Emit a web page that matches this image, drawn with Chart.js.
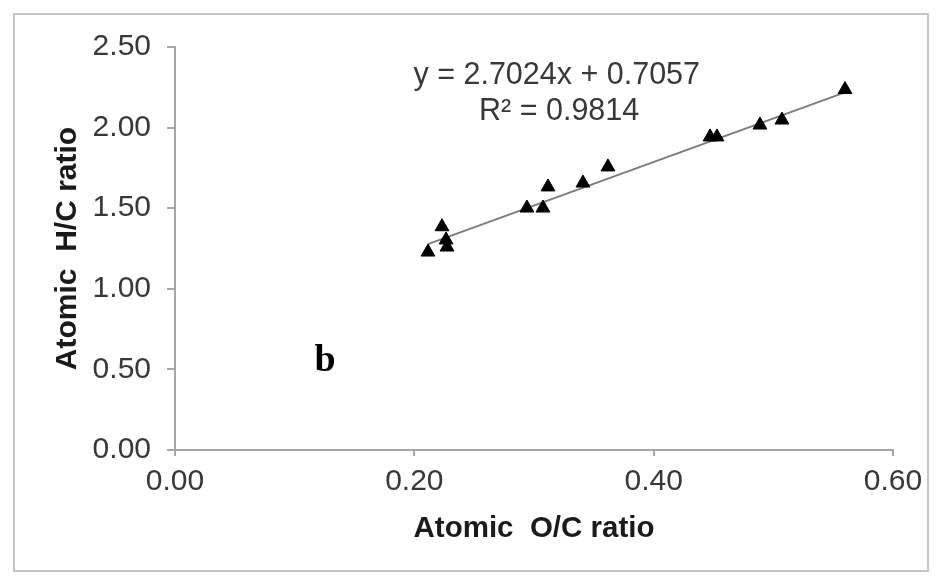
<!DOCTYPE html>
<html>
<head>
<meta charset="utf-8">
<script src="https://cdn.jsdelivr.net/npm/chart.js@4/dist/chart.umd.min.js"></script>
<style>
  html, body { margin: 0; padding: 0; background: #ffffff; }
  #wrap { width: 940px; height: 579px; position: relative; }
</style>
</head>
<body>
<div id="wrap"><canvas id="chart" width="940" height="579"></canvas></div>
<script>
// Atomic ratios of the samples
const ocRatio = [0.2114, 0.2231, 0.2265, 0.2273, 0.2941, 0.3075, 0.3117, 0.3409, 0.3618, 0.4471, 0.4529, 0.4888, 0.5072, 0.5599];
const hcRatio = [1.228, 1.385, 1.303, 1.259, 1.501, 1.501, 1.632, 1.656, 1.756, 1.942, 1.942, 2.016, 2.047, 2.236];

// Linear fit reported for the series
const fitSlope = [2.7024];
const fitIntercept = [0.7057];
const fitR2 = [0.9814];

// Axis ticks
const xTicks = [0.00, 0.20, 0.40, 0.60];
const yTicks = [0.00, 0.50, 1.00, 1.50, 2.00, 2.50];

const points = ocRatio.map((x, i) => ({ x: x, y: hcRatio[i] }));
const xLo = Math.min(...ocRatio), xHi = Math.max(...ocRatio);
const fitLine = [xLo, xHi].map(x => ({ x: x, y: fitSlope[0] * x + fitIntercept[0] }));

const FONT = "'Liberation Sans', Arial, sans-serif";
const AXIS_GRAY = '#a6a6a6';
const TEXT_GRAY = '#383838';

// Frame and background around the whole figure
const framePlugin = {
  id: 'frame',
  beforeDraw(chart) {
    const ctx = chart.ctx;
    ctx.save();
    ctx.fillStyle = '#ffffff';
    ctx.fillRect(0, 0, chart.width, chart.height);
    ctx.strokeStyle = '#c4c4c4';
    ctx.lineWidth = 2;
    ctx.strokeRect(14, 14, 914, 557);
    ctx.restore();
  }
};

// Equation, R² and panel letter placed in data coordinates
const notesPlugin = {
  id: 'notes',
  afterDatasetsDraw(chart) {
    const { ctx, scales: { x, y } } = chart;
    ctx.save();
    ctx.textAlign = 'center';
    ctx.textBaseline = 'middle';
    ctx.fillStyle = TEXT_GRAY;
    ctx.font = '30.5px ' + FONT;
    const eq = 'y = ' + fitSlope[0].toFixed(4) + 'x + ' + fitIntercept[0].toFixed(4);
    ctx.fillText(eq, x.getPixelForValue(0.319), y.getPixelForValue(2.32));
    ctx.fillText('R² = ' + fitR2[0].toFixed(4), x.getPixelForValue(0.321), y.getPixelForValue(2.10));
    ctx.fillStyle = '#000000';
    ctx.font = 'bold 38px "Liberation Serif", "Times New Roman", serif';
    ctx.fillText('b', x.getPixelForValue(0.1253), y.getPixelForValue(0.55));
    ctx.restore();
  }
};

new Chart(document.getElementById('chart'), {
  type: 'scatter',
  data: {
    datasets: [
      {
        type: 'line',
        data: fitLine,
        borderColor: '#7a7a7a',
        borderWidth: 1.8,
        pointRadius: 0,
        fill: false,
        order: 2
      },
      {
        data: points,
        pointStyle: 'triangle',
        pointRadius: 8,
        backgroundColor: '#000000',
        borderColor: '#000000',
        borderWidth: 1,
        order: 1
      }
    ]
  },
  options: {
    responsive: false,
    animation: false,
    devicePixelRatio: 1,
    layout: { padding: { left: 0, top: 47, right: 47, bottom: 0 } },
    plugins: {
      legend: { display: false },
      tooltip: { enabled: false }
    },
    scales: {
      x: {
        type: 'linear',
        min: 0,
        max: 0.6,
        afterFit(scale) { scale.height = 129; },
        afterBuildTicks(scale) { scale.ticks = xTicks.map(v => ({ value: v })); },
        border: { display: true, color: AXIS_GRAY, width: 2 },
        grid: { display: true, drawOnChartArea: false, drawTicks: true, tickLength: 6, color: AXIS_GRAY, lineWidth: 2 },
        ticks: {
          padding: 8,
          color: TEXT_GRAY,
          font: { family: FONT, size: 30 },
          callback: v => Number(v).toFixed(2)
        },
        title: {
          display: true,
          text: 'Atomic  O/C ratio',
          color: '#1a1a1a',
          font: { family: FONT, size: 29.5, weight: 'bold' },
          padding: { top: 0, bottom: 32 }
        }
      },
      y: {
        type: 'linear',
        min: 0,
        max: 2.5,
        afterFit(scale) { scale.width = 175; },
        afterBuildTicks(scale) { scale.ticks = yTicks.map(v => ({ value: v })); },
        border: { display: true, color: AXIS_GRAY, width: 2 },
        grid: { display: true, drawOnChartArea: false, drawTicks: true, tickLength: 8, color: AXIS_GRAY, lineWidth: 2 },
        ticks: {
          padding: 16,
          color: TEXT_GRAY,
          font: { family: FONT, size: 30 },
          callback: v => Number(v).toFixed(2)
        },
        title: {
          display: true,
          text: 'Atomic  H/C ratio',
          color: '#1a1a1a',
          font: { family: FONT, size: 30, weight: 'bold' },
          padding: { top: 50, bottom: 0 }
        }
      }
    }
  },
  plugins: [framePlugin, notesPlugin]
});
</script>
</body>
</html>
